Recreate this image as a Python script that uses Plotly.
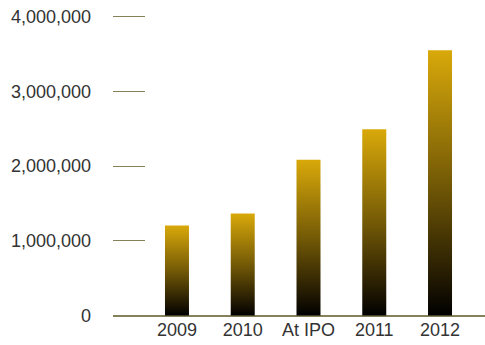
import plotly.graph_objects as go

categories = ["2009", "2010", "At IPO", "2011", "2012"]
values = [1205000, 1365000, 2085000, 2490000, 3550000]
tick_values = [0, 1000000, 2000000, 3000000, 4000000]
tick_labels = ["0", "1,000,000", "2,000,000", "3,000,000", "4,000,000"]

GOLD = "#d9a90a"
OLIVE = "#858158"
BAR_W = 0.365

fig = go.Figure()
for i, (cat, v) in enumerate(zip(categories, values)):
    x0, x1 = i - BAR_W / 2, i + BAR_W / 2
    fig.add_trace(go.Scatter(
        x=[x0, x1, x1, x0, x0],
        y=[0, 0, v, v, 0],
        mode="lines",
        line=dict(width=0, color=GOLD),
        fill="toself",
        fillgradient=dict(
            type="vertical",
            colorscale=[[0, "#000000"], [0.12, "#1e1602"], [0.5, "#745a06"], [1, GOLD]],
        ),
        hoverinfo="skip",
        showlegend=False,
        name=cat,
    ))

fig.update_layout(
    width=485, height=345,
    margin=dict(l=113, r=0, t=15, b=28),
    paper_bgcolor="white", plot_bgcolor="white",
    font=dict(family="Liberation Sans, Arial, sans-serif", size=18, color="#333333"),
    xaxis=dict(
        range=[-0.973, 4.684],
        tickmode="array",
        tickvals=list(range(len(categories))),
        ticktext=categories,
        showgrid=False, zeroline=False, showline=False,
        ticks="", tickfont=dict(size=18),
    ),
    yaxis=dict(
        range=[-20000, 4020000],
        tickmode="array",
        tickvals=tick_values,
        ticktext=tick_labels,
        showgrid=False, showline=False,
        zeroline=True, zerolinecolor=OLIVE, zerolinewidth=1.5,
        ticks="inside", ticklen=32, tickcolor=OLIVE, tickwidth=1.2,
        ticklabelstandoff=21,
        tickfont=dict(size=18),
    ),
)

fig.write_html("out.html")
